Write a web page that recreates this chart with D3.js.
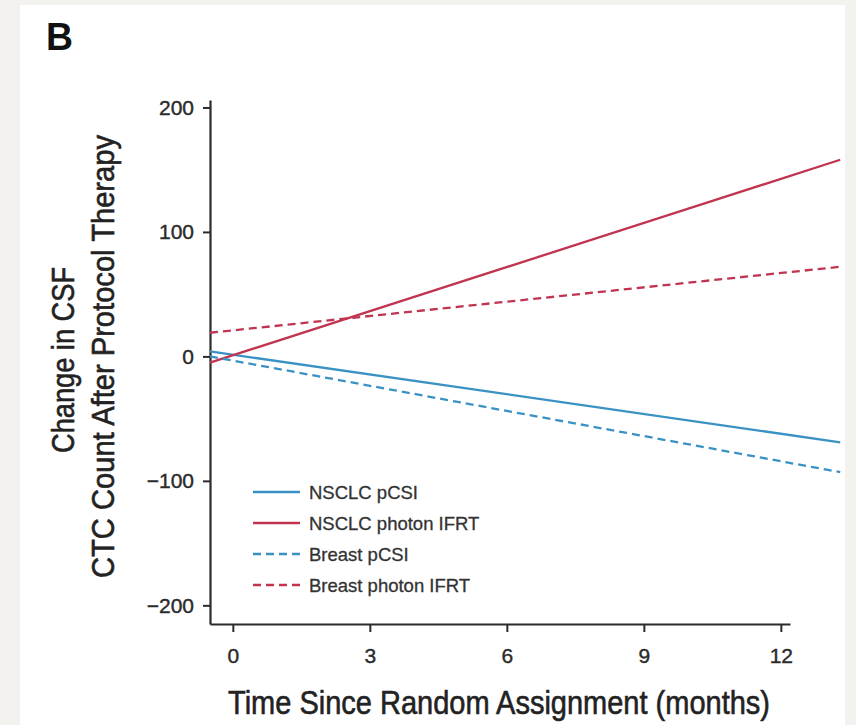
<!DOCTYPE html>
<meta charset="utf-8">
<style>
  body { margin: 0; background: #f3f2ee; }
  svg { display: block; }
</style>
<body>
<div id="my_dataviz"></div>
<script src="https://d3js.org/d3.v7.min.js"></script>
<script>

// line ends (months)
var months = [-0.5, 13.3];
var nsclcPcsi = [4, -69];
var nsclcPhoton = [-5, 158];
var breastPcsi = [0, -93];
var breastPhoton = [19, 72];

var seriesNames = ["NSCLC pCSI", "NSCLC photon IFRT", "Breast pCSI", "Breast photon IFRT"];
var xTicks = [0, 3, 6, 9, 12];
var yTicks = [-200, -100, 0, 100, 200];

var blue = "#3a92c4", red = "#c1344f", ink = "#2b2b2b";
var font = "Liberation Sans, Arial, sans-serif";

var series = [
  {name: seriesNames[0], values: nsclcPcsi, color: blue, dash: null},
  {name: seriesNames[1], values: nsclcPhoton, color: red, dash: null},
  {name: seriesNames[2], values: breastPcsi, color: blue, dash: "8,5"},
  {name: seriesNames[3], values: breastPhoton, color: red, dash: "8,5"}
];

var svg = d3.select("#my_dataviz")
  .append("svg")
    .attr("width", 856)
    .attr("height", 725);

// white panel
svg.append("rect")
  .attr("x", 20).attr("y", 5)
  .attr("width", 825).attr("height", 720)
  .attr("fill", "#fff");

svg.append("text")
  .attr("x", 46).attr("y", 50)
  .attr("font-family", font)
  .attr("font-weight", "bold")
  .attr("font-size", "39px")
  .attr("textLength", 27)
  .attr("lengthAdjust", "spacingAndGlyphs")
  .attr("fill", "#111")
  .text("B");

var x = d3.scaleLinear().domain([-0.5, 12.2]).range([210, 790]);
var y = d3.scaleLinear().domain([-215, 206]).range([624, 100]);

// y axis
var yAxis = svg.append("g")
  .attr("transform", "translate(210,0)")
  .call(d3.axisLeft(y).tickValues(yTicks).tickSize(7).tickSizeOuter(0)
    .tickFormat(function(d) { return d < 0 ? "\u2212" + Math.abs(d) : d; }));
yAxis.select(".domain").attr("stroke", ink).attr("stroke-width", 2.2);
yAxis.selectAll(".tick line").attr("stroke", ink).attr("stroke-width", 2);
yAxis.selectAll(".tick text")
  .attr("x", -16)
  .attr("font-family", font)
  .attr("font-size", "21px")
  .attr("fill", ink)
  .attr("stroke", ink)
  .attr("stroke-width", 0.4);

// x axis
var xAxis = svg.append("g")
  .attr("transform", "translate(0,624)")
  .call(d3.axisBottom(x).tickValues(xTicks).tickSize(8).tickSizeOuter(0));
xAxis.select(".domain").attr("stroke", ink).attr("stroke-width", 2.2);
xAxis.selectAll(".tick line").attr("stroke", ink).attr("stroke-width", 2);
xAxis.selectAll(".tick text")
  .attr("y", 24)
  .attr("font-family", font)
  .attr("font-size", "21px")
  .attr("fill", ink)
  .attr("stroke", ink)
  .attr("stroke-width", 0.4);

// axis titles, squeezed to look condensed
svg.append("text")
  .attr("x", 228).attr("y", 714)
  .attr("font-family", font)
  .attr("font-size", "33px")
  .attr("textLength", 542)
  .attr("lengthAdjust", "spacingAndGlyphs")
  .attr("fill", "#222")
  .attr("stroke", "#222")
  .attr("stroke-width", 0.6)
  .text("Time Since Random Assignment (months)");

svg.append("text")
  .attr("transform", "translate(74,453)rotate(-90)")
  .attr("font-family", font)
  .attr("font-size", "32px")
  .attr("textLength", 186)
  .attr("lengthAdjust", "spacingAndGlyphs")
  .attr("fill", "#222")
  .attr("stroke", "#222")
  .attr("stroke-width", 0.6)
  .text("Change in CSF");

svg.append("text")
  .attr("transform", "translate(114,578)rotate(-90)")
  .attr("font-family", font)
  .attr("font-size", "32px")
  .attr("textLength", 443)
  .attr("lengthAdjust", "spacingAndGlyphs")
  .attr("fill", "#222")
  .attr("stroke", "#222")
  .attr("stroke-width", 0.6)
  .text("CTC Count After Protocol Therapy");

// lines
var line = d3.line()
  .x(function(d, i) { return x(months[i]); })
  .y(function(d) { return y(d); });

svg.selectAll("myline")
  .data(series)
  .enter()
  .append("path")
    .attr("d", function(d) { return line(d.values); })
    .attr("fill", "none")
    .attr("stroke", function(d) { return d.color; })
    .attr("stroke-width", 2.3)
    .attr("stroke-dasharray", function(d) { return d.dash; });

// legend
var legend = svg.selectAll("mylegend")
  .data(series)
  .enter()
  .append("g")
    .attr("transform", function(d, i) { return "translate(253," + (492 + i * 31) + ")"; });
legend.append("line")
  .attr("x1", 0).attr("x2", 47)
  .attr("stroke", function(d) { return d.color; })
  .attr("stroke-width", 2.3)
  .attr("stroke-dasharray", function(d) { return d.dash; });
legend.append("text")
  .attr("x", 56).attr("y", 7)
  .attr("font-family", font)
  .attr("font-size", "18.5px")
  .attr("fill", "#333")
  .attr("stroke", "#333")
  .attr("stroke-width", 0.3)
  .text(function(d) { return d.name; });

</script>
</body>
